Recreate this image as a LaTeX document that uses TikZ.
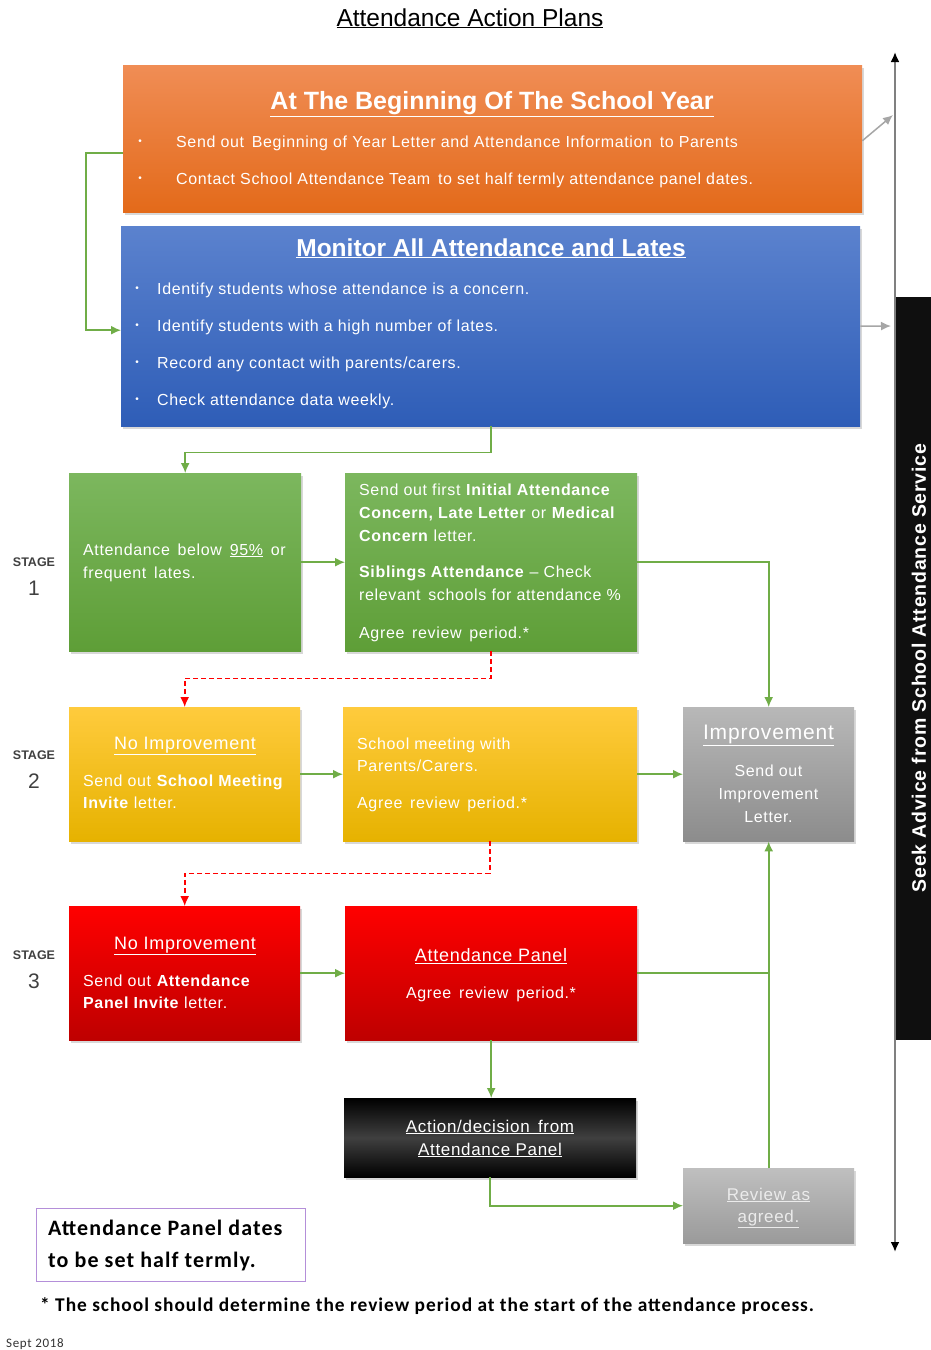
\documentclass[tikz,border=0pt]{standalone}
\usepackage{fontspec}
\setmainfont{Liberation Sans}
\newfontfamily\bodyfont{Liberation Sans}[LetterSpace=4]
\newfontfamily\calib{Carlito}[LetterSpace=5]
\usetikzlibrary{shadows,arrows.meta,calc}
\definecolor{grn}{HTML}{70AD47}
\definecolor{orT}{HTML}{F08D55}
\definecolor{orB}{HTML}{E36A1A}
\definecolor{blT}{HTML}{5B82CE}
\definecolor{blB}{HTML}{2E5DB7}
\definecolor{gnT}{HTML}{7CB75E}
\definecolor{gnB}{HTML}{5E9E37}
\definecolor{yeT}{HTML}{FFCB3D}
\definecolor{yeB}{HTML}{E6B200}
\definecolor{rdT}{HTML}{FF0000}
\definecolor{rdB}{HTML}{BE0000}
\definecolor{gyT}{HTML}{B8B8B8}
\definecolor{gyB}{HTML}{8C8C8C}
\definecolor{rvT}{HTML}{BFBFBF}
\definecolor{rvB}{HTML}{9A9A9A}
\definecolor{purp}{HTML}{B48FD9}
\tikzset{
  box/.style={inner sep=0pt, anchor=north west, drop shadow={shadow xshift=2pt, shadow yshift=-3pt, opacity=0.3}},
  orangebox/.style={box, top color=orT, bottom color=orB},
  bluebox/.style={box, top color=blT, bottom color=blB},
  greenbox/.style={box, top color=gnT, bottom color=gnB},
  yellowbox/.style={box, top color=yeT, bottom color=yeB},
  redbox/.style={box, top color=rdT, bottom color=rdB},
  greybox/.style={box, top color=gyT, bottom color=gyB},
  reviewbox/.style={box, top color=rvT, bottom color=rvB},
  blackbox/.style={box, top color=black, bottom color=black, middle color=black!75},
  txt/.style={inner sep=0pt, text=white, font=\bodyfont\fontsize{16}{19}\selectfont},
  hdr/.style={txt, font=\bodyfont\fontsize{18}{21}\selectfont},
  txtb/.style={txt, font=\bodyfont\fontsize{17}{20}\selectfont},
  stg/.style={inner sep=0pt, text=black!75, font=\bfseries\fontsize{12.5}{14}\selectfont},
  stn/.style={inner sep=0pt, text=black!75, font=\fontsize{21}{24}\selectfont},
  gline/.style={draw=grn, line width=1.6pt},
  garrow/.style={gline, -{Latex[length=10pt,width=9pt]}},
  rarrow/.style={draw=red, line width=1.6pt, dash pattern=on 5pt off 3pt, -{Latex[length=10pt,width=9pt]}},
  grarrow/.style={draw=black!35, line width=1.5pt, -{Latex[length=10pt,width=9pt]}},
}
\begin{document}
\begin{tikzpicture}[x=1pt,y=-1pt]
\useasboundingbox (0,0) rectangle (931,1350);
\fill[white] (0,0) rectangle (931,1350);

% title
\node[inner sep=0pt, font=\fontsize{24.5}{28}\selectfont, anchor=base] (title) at (470,26) {\underline{Attendance Action Plans}};

% side arrow and bar
\coordinate (vtop) at (895,52);
\coordinate (vbot) at (895,1252);
\draw[line width=2pt, black!50, {Latex[length=10pt,width=9pt,color=black]}-{Latex[length=10pt,width=9pt,color=black]}] (vtop) -- (vbot);
\node[fill=black!94, inner sep=0pt, minimum width=35pt, minimum height=743pt, anchor=north west] (side) at (896,297) {};
\node[rotate=90, inner sep=0pt, text=white, font=\bodyfont\bfseries\fontsize{19.5}{22}\selectfont] (sidetxt) at (919,668) {Seek Advice from School Attendance Service};

% orange box
\node[orangebox, minimum width=739pt, minimum height=147pt] (orange) at (123,65) {};
\node[txt, font=\bfseries\fontsize{25}{29}\selectfont, anchor=base] (ot) at (492,109) {\underline{At The Beginning Of The School Year}};
\node[txt, font=\fontsize{10}{12}\selectfont, anchor=center] (ob1) at (140,142) {\textbullet};
\node[txt, font=\fontsize{10}{12}\selectfont, anchor=center] (ob2) at (140,179) {\textbullet};
\node[txt, anchor=base west] (o1) at (176,147) {Send out\, Beginning of Year Letter and Attendance Information\, to Parents};
\node[txt, anchor=base west] (o2) at (176,184) {Contact School Attendance Team\, to set half termly attendance panel dates.};

% blue box
\node[bluebox, minimum width=739pt, minimum height=200pt] (blue) at (121,226) {};
\node[txt, font=\bfseries\fontsize{24.5}{29}\selectfont, anchor=base] (bt) at (491,256) {\underline{Monitor All Attendance and Lates}};
\foreach \yy/\tt [count=\i] in {288/{Identify students whose attendance is a concern.},325/{Identify students with a high number of lates.},362/{Record any contact with parents/carers.},399/{Check attendance data weekly.}}{
  \node[txt, font=\fontsize{10}{12}\selectfont, anchor=center] (bb\i) at (137,\yy+1) {\textbullet};
  \node[txt, anchor=base west] (bl\i) at (157,\yy+6) {\tt};
}

% connectors top
\draw[garrow] ([yshift=-14pt]orange.west) -- ++(-37,0) |- ([yshift=-4pt]blue.west);
\coordinate (vt1) at (893,115);
\coordinate (vt2) at (891,326);
\draw[grarrow] ([yshift=-2pt]orange.east) -- (vt1);
\draw[grarrow] (blue.east) -- (vt2);

% stage labels
\node[stg] (st1) at (34,562) {STAGE};
\node[stn] (sn1) at (34,588) {1};
\node[stg] (st2) at (34,755) {STAGE};
\node[stn] (sn2) at (34,781) {2};
\node[stg] (st3) at (34,955) {STAGE};
\node[stn] (sn3) at (34,981) {3};

% stage 1
\node[greenbox, minimum width=232pt, minimum height=178pt] (s1a) at (69,473) {};
\node[txt, anchor=base west] (s1a1) at (83,555) {Attendance\, below\, \underline{95\%}\, or};
\node[txt, anchor=base west] (s1a2) at (83,578) {frequent\, lates.};
\node[greenbox, minimum width=292pt, minimum height=178pt] (s1b) at (345,473) {};
\node[txt, anchor=base west] (s1b1) at (359,495) {Send out first \textbf{Initial Attendance}};
\node[txt, anchor=base west] (s1b2) at (359,518) {\textbf{Concern, Late Letter} or \textbf{Medical}};
\node[txt, anchor=base west] (s1b3) at (359,541) {\textbf{Concern} letter.};
\node[txt, anchor=base west] (s1b4) at (359,577) {\textbf{Siblings Attendance} – Check};
\node[txt, anchor=base west] (s1b5) at (359,600) {relevant\, schools for attendance \%};
\node[txt, anchor=base west] (s1b6) at (359,638) {Agree\, review\, period.*};

% stage 2
\node[yellowbox, minimum width=231pt, minimum height=134pt] (s2a) at (69,707) {};
\node[hdr, anchor=base] (s2a0) at (185,749.5) {\underline{No Improvement}};
\node[txt, anchor=base west] (s2a1) at (83,786) {Send out \textbf{School Meeting}};
\node[txt, anchor=base west] (s2a2) at (83,808) {\textbf{Invite} letter.};
\node[yellowbox, minimum width=294pt, minimum height=134pt] (s2b) at (343,707) {};
\node[txt, anchor=base west] (s2b1) at (357,749) {School meeting with};
\node[txt, anchor=base west] (s2b2) at (357,771) {Parents/Carers.};
\node[txt, anchor=base west] (s2b3) at (357,808) {Agree\, review\, period.*};
\node[greybox, minimum width=171pt, minimum height=134pt] (imp) at (683,707) {};
\node[txt, font=\bodyfont\fontsize{21}{24}\selectfont, anchor=base] (imp0) at (768.5,739) {\underline{Improvement}};
\node[txt, anchor=base] (imp1) at (768.5,776) {Send out};
\node[txt, anchor=base] (imp2) at (768.5,799) {Improvement};
\node[txt, anchor=base] (imp3) at (768.5,822) {Letter.};

% stage 3
\node[redbox, minimum width=231pt, minimum height=134pt] (s3a) at (69,906) {};
\node[hdr, anchor=base] (s3a0) at (185,949.5) {\underline{No Improvement}};
\node[txt, anchor=base west] (s3a1) at (83,986) {Send out \textbf{Attendance}};
\node[txt, anchor=base west] (s3a2) at (83,1008) {\textbf{Panel Invite} letter.};
\node[redbox, minimum width=292pt, minimum height=134pt] (s3b) at (345,906) {};
\node[hdr, anchor=base] (s3b0) at (491,961.5) {\underline{Attendance Panel}};
\node[txt, anchor=base] (s3b1) at (491,998) {Agree\, review\, period.*};

% bottom boxes
\node[blackbox, minimum width=292pt, minimum height=79pt] (blk) at (344,1098) {};
\node[txtb, anchor=base] (blk1) at (490,1132) {\underline{Action/decision\, from}};
\node[txtb, anchor=base] (blk2) at (490,1155) {\underline{Attendance Panel}};
\node[reviewbox, minimum width=171pt, minimum height=75pt] (rev) at (683,1168) {};
\node[txtb, anchor=base, text=white!92!black] (rev1) at (768.5,1200) {\underline{Review as}};
\node[txtb, anchor=base, text=white!92!black] (rev2) at (768.5,1222) {\underline{agreed.}};

% connectors stages
\draw[garrow] (blue.south) -- ++(0,26) -| (s1a.north);
\draw[garrow] (s1a.east) -- (s1b.west);
\draw[garrow] (s1b.east) -| (imp.north);
\draw[rarrow] (s1b.south) -- ++(0,27) -| (s2a.north);
\draw[garrow] (s2a.east) -- (s2b.west);
\draw[garrow] (s2b.east) -- (imp.west);
\draw[rarrow] (s2b.south) -- ++(0,32) -| (s3a.north);
\draw[garrow] (s3a.east) -- (s3b.west);
\draw[gline] (s3b.east) -- (s3b.east -| imp.south);
\draw[garrow] (rev.north) -- (imp.south);
\draw[garrow] (s3b.south) -- (s3b.south |- blk.north);
\draw[garrow] (blk.south) |- (rev.west);

% notes
\node[draw=purp, line width=1.3pt, inner sep=0pt, minimum width=269pt, minimum height=73pt, anchor=north west] (note) at (36,1208) {};
\node[inner sep=0pt, anchor=base west, font=\calib\bfseries\fontsize{22}{25}\selectfont] (n1) at (48,1235.5) {Attendance Panel dates};
\node[inner sep=0pt, anchor=base west, font=\calib\bfseries\fontsize{22}{25}\selectfont] (n2) at (48,1267) {to be set half termly.};
\node[inner sep=0pt, anchor=base west, font=\calib\bfseries\fontsize{19.4}{22}\selectfont] (fn) at (40,1311) {* The school should determine the review period at the start of the attendance process.};
\node[inner sep=0pt, anchor=base west, font=\calib\fontsize{13}{15}\selectfont, text=black!80] (sept) at (6,1347) {Sept 2018};
\end{tikzpicture}
\end{document}
